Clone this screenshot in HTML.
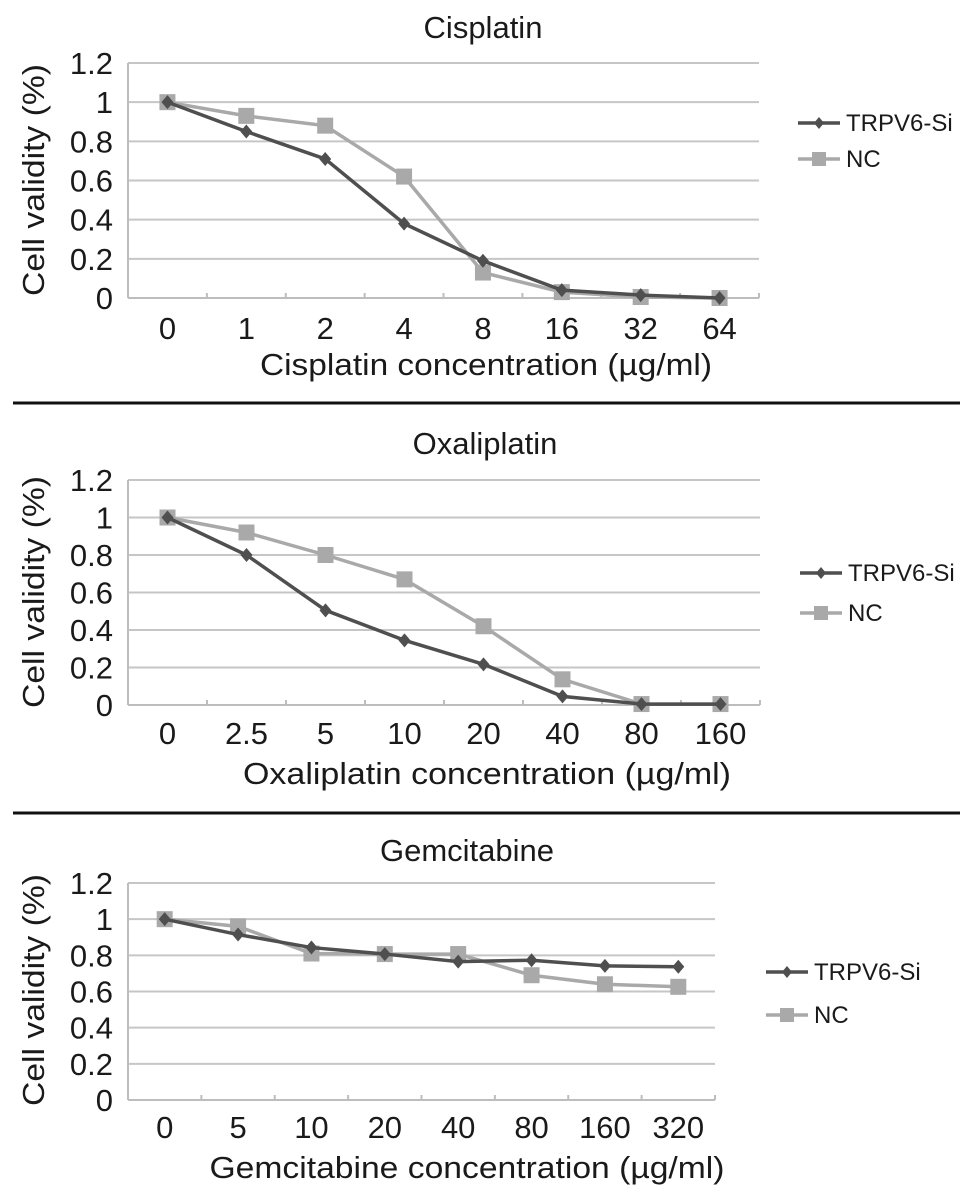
<!DOCTYPE html>
<html><head><meta charset="utf-8"><style>
html,body{margin:0;padding:0;background:#fff;}
svg{display:block;font-family:"Liberation Sans",Arial,sans-serif;}
</style></head><body>
<svg id="fig" width="969" height="1198" viewBox="0 0 969 1198" xmlns="http://www.w3.org/2000/svg">
<line x1="13" y1="403" x2="960" y2="403" stroke="#111" stroke-width="3"/>
<line x1="13" y1="813" x2="960" y2="813" stroke="#111" stroke-width="3"/>
</svg>
<script>
const yTicks = [0, 0.2, 0.4, 0.6, 0.8, 1, 1.2];
const yTickLabels = ["0", "0.2", "0.4", "0.6", "0.8", "1", "1.2"];
const seriesNames = ["TRPV6-Si", "NC"];

const cisCategories = ["0", "1", "2", "4", "8", "16", "32", "64"];
const cisTRPV6 = [1, 0.85, 0.71, 0.38, 0.19, 0.04, 0.015, 0];
const cisNC = [1, 0.93, 0.88, 0.62, 0.13, 0.03, 0.005, 0];

const oxaCategories = ["0", "2.5", "5", "10", "20", "40", "80", "160"];
const oxaTRPV6 = [1, 0.80, 0.505, 0.345, 0.217, 0.046, 0.005, 0.005];
const oxaNC = [1, 0.92, 0.80, 0.67, 0.42, 0.137, 0.005, 0.005];

const gemCategories = ["0", "5", "10", "20", "40", "80", "160", "320"];
const gemTRPV6 = [1, 0.915, 0.843, 0.807, 0.765, 0.773, 0.742, 0.737];
const gemNC = [1, 0.96, 0.81, 0.807, 0.807, 0.69, 0.64, 0.626];

const NS = "http://www.w3.org/2000/svg";
const svg = document.getElementById("fig");
function mk(tag, attrs, parent) {
  const e = document.createElementNS(NS, tag);
  for (const k in attrs) e.setAttribute(k, attrs[k]);
  (parent || svg).appendChild(e);
  return e;
}

function drawChart(id, title, xTitle, cats, s1, s2, L) {
  const g = mk("g", {});
  
  
  const yScale = v => L.y0 - (v / 1.2) * (L.y0 - L.y12);
  const step = (L.right - L.left) / cats.length;
  const xScale = i => L.left + step * (i + 0.5);

  const t = mk("text", {x: L.titleX, y: L.titleY, "font-size": 31, "text-anchor": "middle", fill: "#1a1a1a"}, g);
  t.textContent = title;
  
  

  yTicks.forEach((v, i) => {
    const y = yScale(v);
    if (v > 0) {
      const gl = mk("line", {x1: L.left, y1: y, x2: L.right, y2: y, stroke: "#c6c6c6", "stroke-width": 2}, g);
      
      
    }
    const lb = mk("text", {x: 113, y: y + 11, "font-size": 31, "text-anchor": "end", fill: "#1a1a1a"}, g);
    lb.textContent = yTickLabels[i];
    
    
  });
  const ax = mk("line", {x1: L.left, y1: L.y12, x2: L.left, y2: L.y0, stroke: "#bdbdbd", "stroke-width": 2}, g);
  
  
  const xa = mk("line", {x1: L.left, y1: L.y0, x2: L.right, y2: L.y0, stroke: "#bdbdbd", "stroke-width": 2}, g);
  
  
  for (let i = 1; i <= cats.length; i++) {
    const tk = mk("line", {x1: L.left + step * i, y1: L.y0, x2: L.left + step * i, y2: L.y0 - 5, stroke: "#bdbdbd", "stroke-width": 2}, g);
    
    
  }
  cats.forEach((c, i) => {
    const lb = mk("text", {x: xScale(i), y: L.tickY, "font-size": 31, "text-anchor": "middle", fill: "#1a1a1a"}, g);
    lb.textContent = c;
    
    
  });
  const xt = mk("text", {x: L.xTitleX, y: L.xTitleY, "font-size": 31, "text-anchor": "middle", fill: "#1a1a1a", textLength: L.xTitleW, lengthAdjust: "spacingAndGlyphs"}, g);
  xt.textContent = xTitle;
  
  
  const yt = mk("text", {x: 0, y: 0, "font-size": 31, "text-anchor": "middle", fill: "#1a1a1a", transform: "translate(44," + L.yTitleY + ") rotate(-90)", textLength: 232, lengthAdjust: "spacingAndGlyphs"}, g);
  yt.textContent = "Cell validity (%)";
  
  

  const colors = ["#4f4f4f", "#a9a9a9"];
  [s2, s1].forEach((s, k) => {
    const si = k === 0 ? 1 : 0;
    const pts = s.map((v, i) => xScale(i) + "," + yScale(v)).join(" ");
    const pl = mk("polyline", {points: pts, fill: "none", stroke: colors[si], "stroke-width": 3.5}, g);
    
    
    s.forEach((v, i) => {
      const cx = xScale(i), cy = yScale(v);
      let m;
      if (si === 1) {
        m = mk("rect", {x: cx - 8, y: cy - 8, width: 16, height: 16, fill: colors[1]}, g);
      } else {
        m = mk("polygon", {points: `${cx},${cy-7} ${cx+6},${cy} ${cx},${cy+7} ${cx-6},${cy}`, fill: colors[0]}, g);
      }
      
      
    });
  });

  seriesNames.forEach((n, i) => {
    const y = L.legY[i];
    const ll = mk("line", {x1: L.legX, y1: y, x2: L.legX + 42, y2: y, stroke: colors[i], "stroke-width": 3.5}, g);
    
    
    const cx = L.legX + 21;
    const lm = i === 1 ? mk("rect", {x: cx - 7, y: y - 7, width: 14, height: 14, fill: colors[1]}, g)
                       : mk("polygon", {points: `${cx},${y-6} ${cx+5},${y} ${cx},${y+6} ${cx-5},${y}`, fill: colors[0]}, g);
    
    
    const lt = mk("text", {x: L.legX + 48, y: y + 8, "font-size": 24, fill: "#1a1a1a"}, g);
    lt.textContent = n;
    
    
  });
}

drawChart("cisplatin", "Cisplatin", "Cisplatin concentration (\u00b5g/ml)", cisCategories, cisTRPV6, cisNC,
  {left: 128, right: 759, y12: 63, y0: 298, titleX: 483, titleY: 38, tickY: 339, xTitleX: 486, xTitleY: 375, xTitleW: 452, yTitleY: 180, legX: 798, legY: [123, 159]});
drawChart("oxaliplatin", "Oxaliplatin", "Oxaliplatin concentration (\u00b5g/ml)", oxaCategories, oxaTRPV6, oxaNC,
  {left: 128, right: 760, y12: 480, y0: 705, titleX: 485, titleY: 454, tickY: 744, xTitleX: 487, xTitleY: 784, xTitleW: 488, yTitleY: 592, legX: 800, legY: [573, 613]});
drawChart("gemcitabine", "Gemcitabine", "Gemcitabine concentration (\u00b5g/ml)", gemCategories, gemTRPV6, gemNC,
  {left: 128, right: 715, y12: 883, y0: 1100, titleX: 467, titleY: 861, tickY: 1138, xTitleX: 467, xTitleY: 1178, xTitleW: 515, yTitleY: 990, legX: 766, legY: [972, 1015]});
</script>
</body></html>
